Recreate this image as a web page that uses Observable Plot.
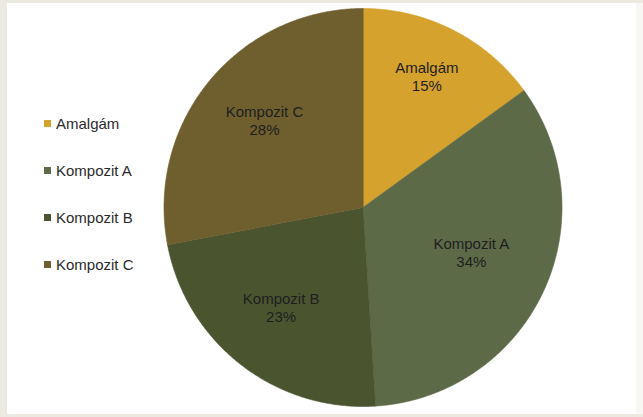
<!DOCTYPE html>
<html>
<head>
<meta charset="utf-8">
<script src="https://cdn.jsdelivr.net/npm/d3@7"></script>
<script src="https://cdn.jsdelivr.net/npm/@observablehq/plot@0.6"></script>
<style>
  html, body { margin: 0; padding: 0; }
  body { width: 643px; height: 417px; background: #ECE9E1; position: relative; overflow: hidden; font-family: "Liberation Sans", Arial, sans-serif; }
  #panel { position: absolute; left: 7px; top: 3px; width: 629px; height: 411px; background: #ffffff; }
  #rightstrip { position: absolute; left: 636px; top: 3px; width: 7px; height: 411px; background: #F8F7F4; }
  #chart { position: absolute; left: 0; top: 0; }
  #legend { position: absolute; left: 0; top: 0; }
  .item { position: absolute; left: 44px; height: 18px; display: flex; align-items: center; font-size: 15px; color: #2b2b2b; white-space: nowrap; }
  .sw { width: 7px; height: 7px; margin-right: 5px; }
</style>
</head>
<body>
<div id="panel"></div>
<div id="rightstrip"></div>
<div id="chart"></div>
<div id="legend"></div>
<script>
const categories = ["Amalgám", "Kompozit A", "Kompozit B", "Kompozit C"];
const shares = [15, 34, 23, 28];
const colors = ["#D5A22E", "#5D6A48", "#4A5530", "#6F5E2E"];
const percentLabels = ["15%", "34%", "23%", "28%"];

const arcs = d3.pie().sort(null).value(d => d.value).startAngle(0).endAngle(2 * Math.PI)(
  categories.map((name, i) => ({name, value: shares[i], label: percentLabels[i]}))
);

// polygon points for each slice (unit circle, clockwise from 12 o'clock)
const pts = [];
arcs.forEach(a => {
  const name = a.data.name;
  pts.push({name, x: 0, y: 0});
  const n = Math.max(2, Math.ceil((a.endAngle - a.startAngle) / (Math.PI / 360)));
  for (let k = 0; k <= n; k++) {
    const t = a.startAngle + (a.endAngle - a.startAngle) * k / n;
    pts.push({name, x: Math.sin(t), y: Math.cos(t)});
  }
});

// label positions: sector centroid, pushed slightly outward
const labels = arcs.map(a => {
  const th = a.endAngle - a.startAngle;
  const mid = (a.startAngle + a.endAngle) / 2;
  const r = 1.1 * (2 * Math.sin(th / 2)) / (3 * th / 2);
  return {x: r * Math.sin(mid), y: r * Math.cos(mid), text: a.data.name + "\n" + a.data.label};
});

const chart = Plot.plot({
  width: 643,
  height: 417,
  x: {domain: [-1, 1], range: [163.5, 561.5], axis: null},
  y: {domain: [-1, 1], range: [406, 8], axis: null},
  color: {domain: categories, range: colors},
  style: {background: "transparent", overflow: "visible"},
  marks: [
    Plot.line(pts, {x: "x", y: "y", z: "name", fill: "name", stroke: "name", strokeWidth: 0.6, curve: "linear-closed"}),
    Plot.text(labels, {x: "x", y: "y", dy: -6, text: "text", fontSize: 15, lineHeight: 1.2, fill: "#1e1e1e", fontFamily: "Liberation Sans, Arial, sans-serif"})
  ]
});
document.getElementById("chart").append(chart);

const legend = document.getElementById("legend");
categories.forEach((c, i) => {
  const div = document.createElement("div");
  div.className = "item";
  div.style.top = (114 + i * 47) + "px";
  const sw = document.createElement("span");
  sw.className = "sw";
  sw.style.background = colors[i];
  div.append(sw, document.createTextNode(c));
  legend.append(div);
});
</script>
</body>
</html>
